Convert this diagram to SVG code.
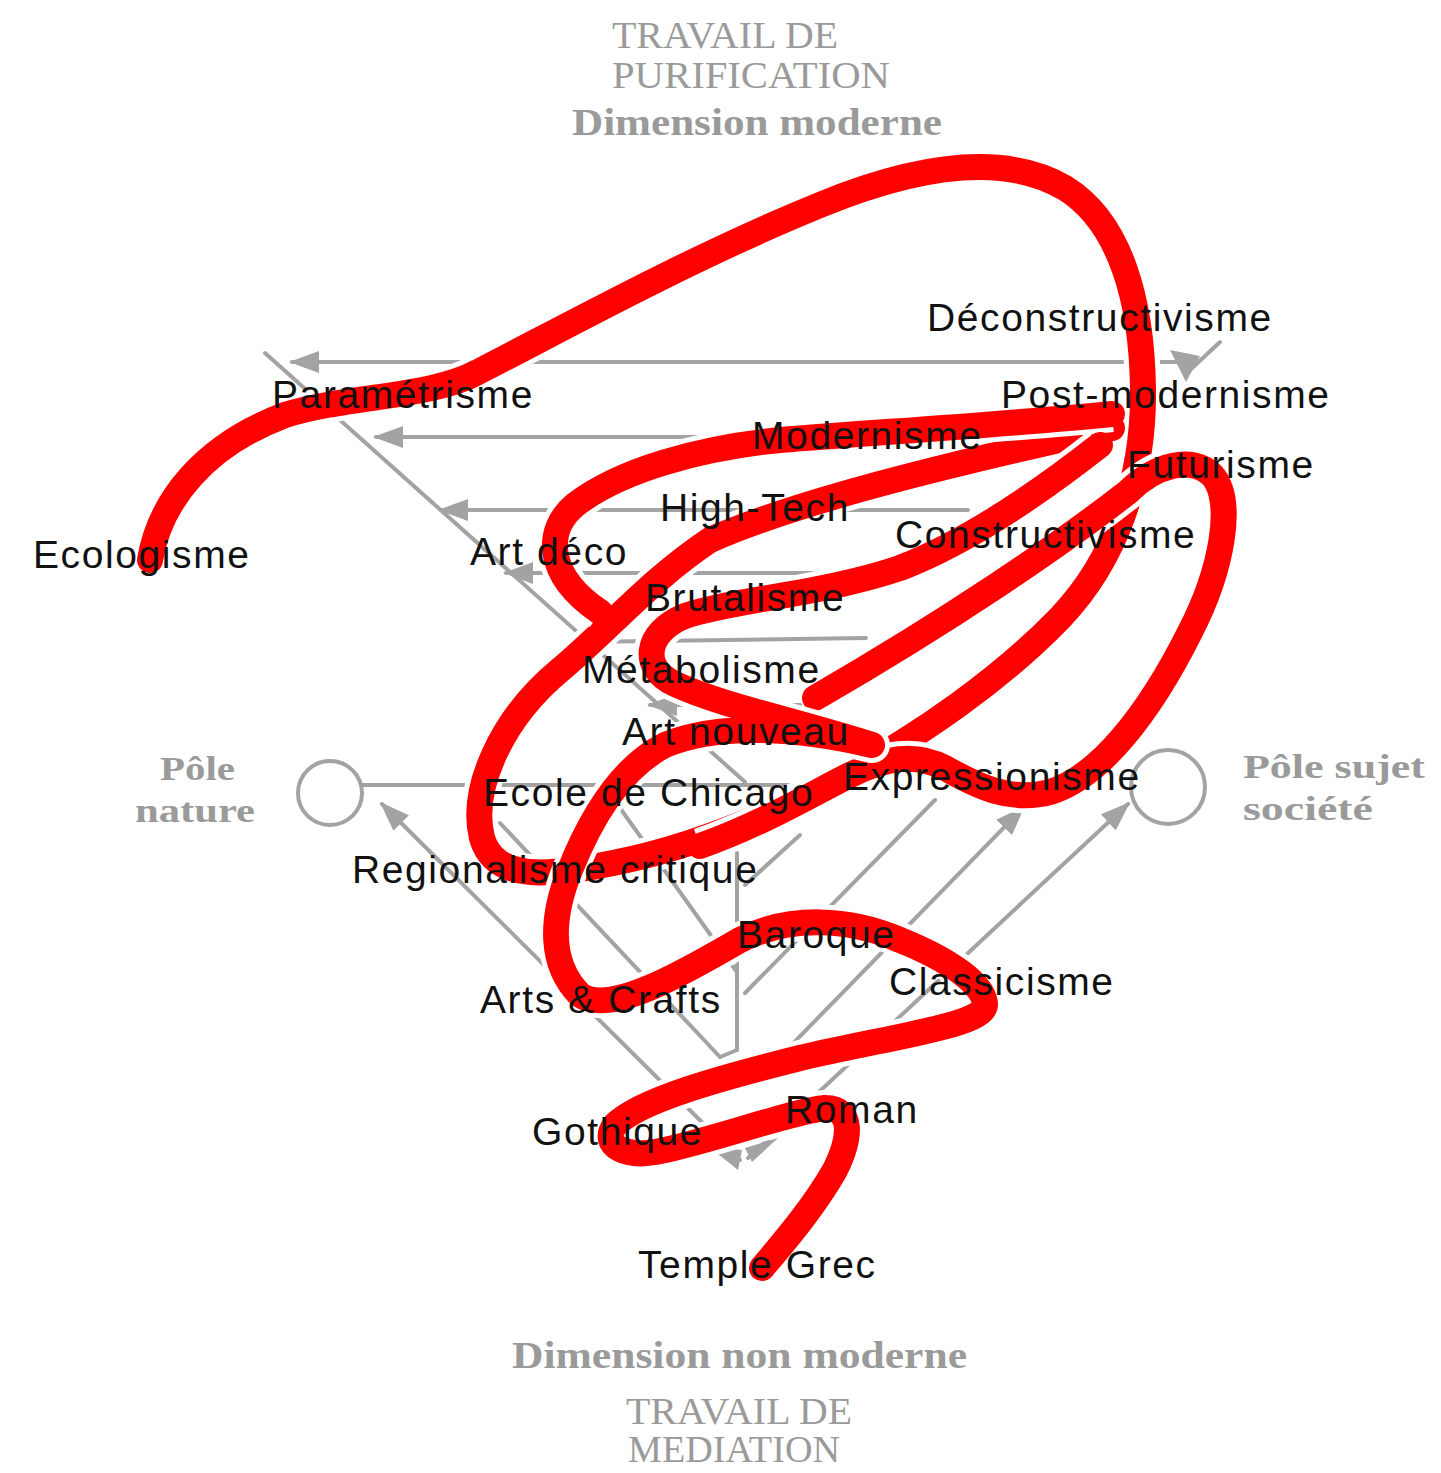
<svg xmlns="http://www.w3.org/2000/svg" xmlns:xlink="http://www.w3.org/1999/xlink" width="1441" height="1473" viewBox="0 0 1441 1473">
<style>
.g{stroke:#a3a3a3;stroke-width:4;fill:none;stroke-linecap:round}
.ah{fill:#a3a3a3}
.h{stroke:#fff;stroke-width:36;fill:none;stroke-linecap:butt;stroke-linejoin:round}
.r{stroke:#ff0000;stroke-width:26;fill:none;stroke-linecap:round;stroke-linejoin:round}
.lb{font-family:"Liberation Sans",Arial,sans-serif;font-size:39px;letter-spacing:1.6px;fill:#111}
.hd{font-family:"Liberation Serif","Times New Roman",serif;fill:#9a9a9a}
</style>
<defs>
<marker id="arr" viewBox="0 0 10 10" refX="9" refY="5" markerWidth="30" markerHeight="22" markerUnits="userSpaceOnUse" orient="auto" preserveAspectRatio="none">
<path d="M0,0 L10,5 L0,10 Z" fill="#a3a3a3"/>
</marker>
<path id="s1" d="M150,560 C160,500 205,445 285,415 C350,395 430,398 478,372 C560,330 690,258 820,205 C910,168 1000,150 1065,188 C1120,222 1142,300 1143,390 C1144,480 1115,560 1060,618 C1000,680 920,735 847,775 C780,810 700,846 613,863 C550,876 495,882 482,838 C470,790 500,720 560,670 C610,628 650,580 710,540 C800,500 960,462 1112,428"/>
<path id="s2" d="M1112,414 C1000,425 880,432 780,440 C700,448 620,470 575,505 C545,530 545,575 600,612"/>
<path id="s3" d="M700,846 C760,825 810,795 850,775 C885,758 915,752 945,768 C975,785 1010,803 1050,792 C1100,777 1150,712 1190,632 C1222,570 1235,500 1212,475 C1192,455 1155,465 1128,492 C1060,545 950,620 815,698"/>
<path id="s4" d="M1100,445 C1030,500 960,545 900,568 C820,595 730,600 685,616 C645,632 640,668 675,684 C720,705 800,722 872,745 C800,728 720,722 665,745 C620,768 590,820 570,870 C550,920 550,965 580,995 C610,1015 680,975 740,940 C790,915 850,918 900,940 C950,960 985,985 985,1005 C983,1025 900,1035 800,1058 C720,1078 640,1100 615,1125 C600,1145 625,1160 665,1150 C720,1138 790,1112 825,1108 C855,1108 850,1140 835,1170 C815,1205 790,1235 762,1268"/>
</defs>
<rect width="1441" height="1473" fill="#fff"/>

<g id="headers">
<text class="hd" x="612" y="48" font-size="38" textLength="226" lengthAdjust="spacingAndGlyphs">TRAVAIL DE</text>
<text class="hd" x="612" y="88" font-size="38" textLength="278" lengthAdjust="spacingAndGlyphs">PURIFICATION</text>
<text class="hd" x="572" y="135" font-size="37" font-weight="bold" textLength="370" lengthAdjust="spacingAndGlyphs">Dimension  moderne</text>
<text class="hd" x="512" y="1368" font-size="37" font-weight="bold" textLength="455" lengthAdjust="spacingAndGlyphs">Dimension  non  moderne</text>
<text class="hd" x="626" y="1424" font-size="38" textLength="226" lengthAdjust="spacingAndGlyphs">TRAVAIL DE</text>
<text class="hd" x="628" y="1462" font-size="38" textLength="212" lengthAdjust="spacingAndGlyphs">MEDIATION</text>
</g>

<g id="pole-nature">
<circle cx="330" cy="793" r="32" class="g"/>
<text class="hd" x="160" y="780" font-size="34" font-weight="bold" textLength="75" lengthAdjust="spacingAndGlyphs">Pôle</text>
<text class="hd" x="135" y="822" font-size="34" font-weight="bold" textLength="120" lengthAdjust="spacingAndGlyphs">nature</text>
</g>
<g id="pole-sujet">
<circle cx="1168" cy="787" r="37" class="g"/>
<text class="hd" x="1243" y="778" font-size="34" font-weight="bold" textLength="182" lengthAdjust="spacingAndGlyphs">Pôle sujet</text>
<text class="hd" x="1243" y="820" font-size="34" font-weight="bold" textLength="130" lengthAdjust="spacingAndGlyphs">société</text>
</g>

<g id="connectors">
<line class="g" x1="265" y1="353" x2="745" y2="782"/>
<line class="g" x1="1220" y1="342" x2="1190" y2="370"/>
<path class="ah" d="M1170,350 L1200,356 L1186,382 Z"/>
<line class="g" x1="1178" y1="362" x2="292" y2="362" marker-end="url(#arr)"/>
<line class="g" x1="1078" y1="437" x2="376" y2="437" marker-end="url(#arr)"/>
<line class="g" x1="968" y1="510" x2="441" y2="510" marker-end="url(#arr)"/>
<line class="g" x1="860" y1="573" x2="506" y2="573" marker-end="url(#arr)"/>
<line class="g" x1="866" y1="638" x2="578" y2="642" marker-end="url(#arr)"/>
<line class="g" x1="800" y1="705" x2="650" y2="705" marker-end="url(#arr)"/>
<line class="g" x1="363" y1="785" x2="800" y2="785"/>
<line class="g" x1="740" y1="1160" x2="382" y2="804" marker-end="url(#arr)"/>
<line class="g" x1="748" y1="1158" x2="1128" y2="804" marker-end="url(#arr)"/>
<line class="g" x1="770" y1="1067" x2="1023" y2="808" marker-end="url(#arr)"/>
<line class="g" x1="745" y1="993" x2="935" y2="800"/>
<line class="g" x1="745" y1="885" x2="800" y2="835"/>
<line class="g" x1="500" y1="823" x2="720" y2="1057"/>
<line class="g" x1="605" y1="787" x2="737" y2="972"/>
<line class="g" x1="737" y1="853" x2="737" y2="1050"/>
<line class="g" x1="720" y1="1057" x2="737" y2="1050"/>
<path class="ah" d="M708,1146 L742,1150 L738,1170 Z"/>
<path class="ah" d="M745,1148 L778,1138 L752,1162 Z"/>
</g>

<g id="red-thread">
<use xlink:href="#s1" class="h"/><use xlink:href="#s1" class="r"/>
<use xlink:href="#s3" class="h"/><use xlink:href="#s3" class="r"/>
<use xlink:href="#s2" class="h"/><use xlink:href="#s2" class="r"/>
<use xlink:href="#s4" class="h"/><use xlink:href="#s4" class="r"/>
</g>

<g id="labels">
<g id="n-ecologisme"><text class="lb" x="33" y="568">Ecologisme</text></g>
<g id="n-parametrisme"><text class="lb" x="272" y="408">Paramétrisme</text></g>
<g id="n-deconstructivisme"><text class="lb" x="927" y="331">Déconstructivisme</text></g>
<g id="n-postmodernisme"><text class="lb" x="1001" y="408">Post-modernisme</text></g>
<g id="n-modernisme"><text class="lb" x="752" y="449">Modernisme</text></g>
<g id="n-futurisme"><text class="lb" x="1127" y="478">Futurisme</text></g>
<g id="n-hightech"><text class="lb" x="660" y="521">High-Tech</text></g>
<g id="n-constructivisme"><text class="lb" x="895" y="548">Constructivisme</text></g>
<g id="n-artdeco"><text class="lb" x="470" y="565">Art déco</text></g>
<g id="n-brutalisme"><text class="lb" x="645" y="611">Brutalisme</text></g>
<g id="n-metabolisme"><text class="lb" x="582" y="683">Métabolisme</text></g>
<g id="n-artnouveau"><text class="lb" x="622" y="745">Art nouveau</text></g>
<g id="n-expressionisme"><text class="lb" x="843" y="790">Expressionisme</text></g>
<g id="n-chicago"><text class="lb" x="483" y="806">Ecole de Chicago</text></g>
<g id="n-regionalisme"><text class="lb" x="352" y="883">Regionalisme critique</text></g>
<g id="n-baroque"><text class="lb" x="737" y="948">Baroque</text></g>
<g id="n-classicisme"><text class="lb" x="889" y="995">Classicisme</text></g>
<g id="n-artscrafts"><text class="lb" x="480" y="1013">Arts &amp; Crafts</text></g>
<g id="n-roman"><text class="lb" x="785" y="1123">Roman</text></g>
<g id="n-gothique"><text class="lb" x="532" y="1145">Gothique</text></g>
<g id="n-temple"><text class="lb" x="638" y="1278">Temple Grec</text></g>
</g>
</svg>
